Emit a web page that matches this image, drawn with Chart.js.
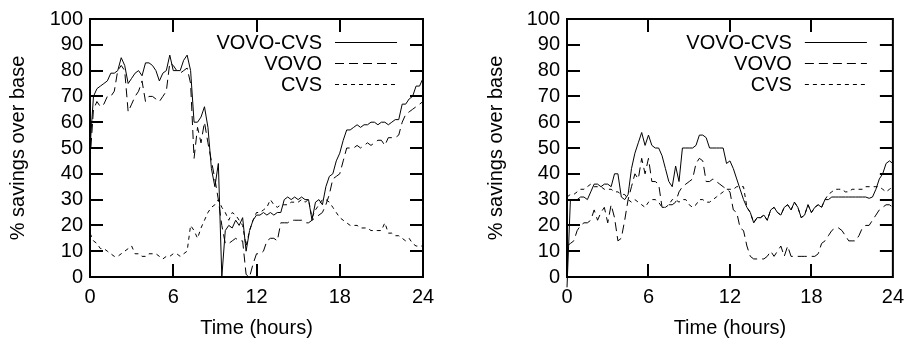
<!DOCTYPE html>
<html>
<head>
<meta charset="utf-8">
<script src="https://cdn.jsdelivr.net/npm/chart.js@4/dist/chart.umd.min.js"></script>
<style>
  html, body { margin: 0; padding: 0; background: #fff; }
  #wrap { position: relative; width: 912px; height: 343px; }
  canvas { position: absolute; top: 0; }
</style>
</head>
<body>
<div id="wrap">
  <canvas id="left" width="456" height="343" style="left:0"></canvas>
  <canvas id="right" width="456" height="343" style="left:456px"></canvas>
</div>
<script>
// time of day, hours
const hours = [
  0, 0.25, 0.5, 0.75, 1, 1.25, 1.5, 1.75, 2, 2.25, 2.5, 2.75, 3, 3.25, 3.5, 3.75,
  4, 4.25, 4.5, 4.75, 5, 5.25, 5.5, 5.75, 6, 6.25, 6.5, 6.75, 7, 7.25, 7.5, 7.75,
  8, 8.25, 8.5, 8.75, 9, 9.25, 9.5, 9.75, 10, 10.25, 10.5, 10.75, 11, 11.25, 11.5, 11.75,
  12, 12.25, 12.5, 12.75, 13, 13.25, 13.5, 13.75, 14, 14.25, 14.5, 14.75, 15, 15.25, 15.5, 15.75,
  16, 16.25, 16.5, 16.75, 17, 17.25, 17.5, 17.75, 18, 18.25, 18.5, 18.75, 19, 19.25, 19.5, 19.75,
  20, 20.25, 20.5, 20.75, 21, 21.25, 21.5, 21.75, 22, 22.25, 22.5, 22.75, 23, 23.25, 23.5, 23.75, 24
]

const xTicks = [0, 6, 12, 18, 24]
const yTicks = [0, 10, 20, 30, 40, 50, 60, 70, 80, 90, 100]
const seriesNames = ['VOVO-CVS', 'VOVO', 'CVS']

// left panel
const leftVovoCvs = [
  50, 70, 73, 74, 75, 76, 79, 79, 80, 85, 82, 75, 77, 79, 80, 78,
  83, 83, 82, 80, 76, 79, 80, 86, 80, 80, 80, 84, 86, 80, 60, 60,
  62, 66, 58, 42, 35, 44, 0, 18, 20, 19, 22, 20, 23, 10, 18, 22,
  24, 24, 25, 24, 25, 24, 25, 25, 30, 31, 30, 31, 30, 31, 30, 30,
  22, 29, 30, 28, 35, 39, 40, 45, 48, 53, 57, 57, 58, 59, 58, 59,
  59, 60, 60, 59, 60, 60, 59, 60, 61, 61, 67, 67, 69, 70, 74, 74, 77
]
const leftVovo = [
  45, 65, 68, 66, 67, 70, 70, 72, 80, 82, 80, 64, 67, 70, 72, 76,
  68, 70, 70, 69, 68, 70, 72, 83, 82, 80, 79, 80, 81, 75, 46, 58,
  52, 60, 52, 45, 38, 30, 20, 13, 13, 14, 15, 14, 14, 1, 0, 5,
  9, 9, 10, 14, 15, 15, 14, 21, 21, 21, 22, 22, 22, 22, 21, 21,
  22, 23, 24, 25, 28, 32, 38, 39, 40, 45, 50, 50, 50, 51, 50, 51,
  52, 51, 52, 53, 53, 51, 54, 54, 54, 55, 60, 63, 64, 65, 66, 67, 68
]
const leftCvs = [
  17, 14, 13, 11, 11, 10, 9, 8, 8, 9, 10, 11, 12, 9, 9, 8,
  8, 9, 9, 9, 8, 7, 8, 8, 9, 9, 8, 9, 10, 20, 18, 15,
  19, 22, 25, 27, 28, 30, 27, 25, 22, 25, 24, 22, 20, 12, 18, 22,
  25, 25, 26, 27, 30, 28, 27, 28, 28, 28, 29, 29, 29, 30, 29, 30,
  23, 26, 28, 30, 30, 29, 27, 25, 23, 22, 21, 20, 20, 20, 19, 19,
  19, 18, 18, 18, 18, 21, 17, 17, 16, 16, 15, 14, 15, 13, 12, 12, 12
]

// right panel
const rightVovoCvs = [
  -4, 30, 30, 30, 31, 31, 30, 33, 36, 36, 35, 36, 36, 35, 40, 40,
  31, 30, 32, 42, 48, 52, 56, 51, 55, 51, 50, 50, 47, 42, 37, 35,
  43, 37, 50, 50, 50, 50, 51, 55, 55, 54, 50, 50, 50, 50, 50, 44,
  45, 42, 38, 34, 30, 27, 25, 21, 23, 23, 24, 22, 26, 27, 25, 24,
  27, 28, 26, 29, 27, 23, 24, 28, 25, 27, 28, 27, 30, 30, 31, 31,
  31, 31, 31, 31, 31, 31, 31, 31, 31, 30.5, 31, 34, 38, 40, 44, 45, 44
]
const rightVovo = [
  12, 13, 14, 18, 20, 21, 21, 22, 26, 22, 25, 27, 21, 28, 23, 14,
  15, 22, 30, 35, 40, 38, 46, 40, 46, 37, 37, 36, 27, 27, 28, 28,
  29, 33, 35, 36, 37, 38, 44, 46, 45, 37, 37, 38, 37, 36, 35, 34,
  33, 26, 25, 19, 18, 12, 8, 7, 7, 7, 7, 8, 10, 8, 10, 12,
  8, 12, 8, 8, 8, 8, 8, 8, 8, 8, 9, 13, 14, 16, 18, 19,
  19, 18, 16, 14, 14, 14, 16, 19, 20, 20, 22, 24, 26, 27, 28, 28, 27
]
const rightCvs = [
  31, 32, 32, 33, 34, 34, 35, 36, 35, 35, 35, 34, 34, 34, 33, 33,
  32, 32, 30, 29, 30, 29, 28, 27, 29, 30, 30, 29, 27, 27, 28, 30,
  30, 29, 30, 30, 28, 27, 28, 30, 30, 29, 29, 30, 31, 32, 33, 34,
  34, 34, 35, 35, 35, 27, 25, 21, 23, 23, 24, 22, 26, 27, 25, 24,
  27, 28, 26, 29, 27, 23, 24, 28, 25, 27, 28, 27, 30, 32, 33, 34,
  34, 34, 33, 33, 34, 34, 34, 34, 35, 35, 35, 35, 35, 34, 33, 34, 35
]

const FONT = '"Liberation Sans", Arial, Helvetica, sans-serif'
const dashes = [[], [9, 5], [4, 4]]

// gnuplot style frame with inward ticks on all four sides
const framePlugin = {
  id: 'frame',
  afterDatasetsDraw (chart) {
    const { ctx, chartArea: a, scales: { x, y } } = chart
    const len = 13
    ctx.save()
    ctx.strokeStyle = '#000'
    ctx.lineWidth = 2
    ctx.beginPath()
    xTicks.slice(1, -1).forEach(v => {
      const px = Math.round(x.getPixelForValue(v))
      ctx.moveTo(px, a.bottom); ctx.lineTo(px, a.bottom - len)
      ctx.moveTo(px, a.top); ctx.lineTo(px, a.top + len)
    })
    yTicks.slice(1, -1).forEach(v => {
      const py = Math.round(y.getPixelForValue(v))
      ctx.moveTo(a.left, py); ctx.lineTo(a.left + len, py)
      ctx.moveTo(a.right, py); ctx.lineTo(a.right - len, py)
    })
    ctx.stroke()
    ctx.strokeRect(a.left, a.top, a.right - a.left, a.bottom - a.top)
    ctx.restore()
  }
}

// key in the top right corner: label, then line sample
const keyPlugin = {
  id: 'key',
  afterDatasetsDraw (chart) {
    const { ctx, chartArea: a } = chart
    ctx.save()
    ctx.font = '20px ' + FONT
    ctx.textAlign = 'right'
    ctx.textBaseline = 'middle'
    ctx.fillStyle = '#000'
    chart.data.datasets.forEach((ds, i) => {
      const yy = a.top + 23 + i * 21
      const tx = a.right - 101
      ctx.fillText(ds.label, tx, yy + 1)
      ctx.strokeStyle = ds.borderColor
      ctx.lineWidth = 1
      ctx.setLineDash(ds.borderDash || [])
      ctx.beginPath()
      ctx.moveTo(tx + 13, yy + 0.5)
      ctx.lineTo(tx + 75, yy + 0.5)
      ctx.stroke()
    })
    ctx.restore()
  }
}

function makeChart (id, series, opt) {
  const datasets = series.map((vals, i) => ({
    label: seriesNames[i],
    data: hours.map((h, k) => ({ x: h, y: vals[k] })),
    borderColor: '#000',
    borderWidth: 1,
    borderDash: dashes[i],
    pointRadius: 0,
    tension: 0,
    clip: opt.clip
  }))

  return new Chart(document.getElementById(id), {
    type: 'line',
    data: { datasets },
    options: {
      responsive: false,
      animation: false,
      layout: { padding: { top: 14, right: opt.right, left: opt.left, bottom: 0 } },
      plugins: { legend: { display: false }, tooltip: { enabled: false } },
      scales: {
        x: {
          type: 'linear',
          min: 0,
          max: 24,
          afterBuildTicks: s => { s.ticks = xTicks.map(v => ({ value: v })) },
          afterFit: s => { s.height = 66 },
          ticks: { color: '#000', font: { family: FONT, size: 20 }, padding: 8, maxRotation: 0, autoSkip: false },
          grid: { display: false, drawTicks: false },
          border: { display: false },
          title: {
            display: true,
            text: 'Time (hours)',
            color: '#000',
            font: { family: FONT, size: 20 },
            padding: { top: 0, bottom: 3 }
          }
        },
        y: {
          min: 0,
          max: 100,
          afterBuildTicks: s => { s.ticks = yTicks.map(v => ({ value: v })) },
          afterFit: s => { s.width = opt.yWidth },
          ticks: { color: '#000', font: { family: FONT, size: 20 }, padding: 7, autoSkip: false },
          grid: { display: false, drawTicks: false },
          border: { display: false },
          title: {
            display: true,
            text: '% savings over base',
            color: '#000',
            font: { family: FONT, size: 20 },
            padding: { top: 6, bottom: 0 }
          }
        }
      }
    },
    plugins: [framePlugin, keyPlugin]
  })
}

makeChart('left', [leftVovoCvs, leftVovo, leftCvs], { left: 0, right: 33, yWidth: 90, clip: 2 })
makeChart('right', [rightVovoCvs, rightVovo, rightCvs], { left: 22, right: 13, yWidth: 89, clip: { left: 2, top: 2, right: 2, bottom: 12 } })
</script>
</body>
</html>
